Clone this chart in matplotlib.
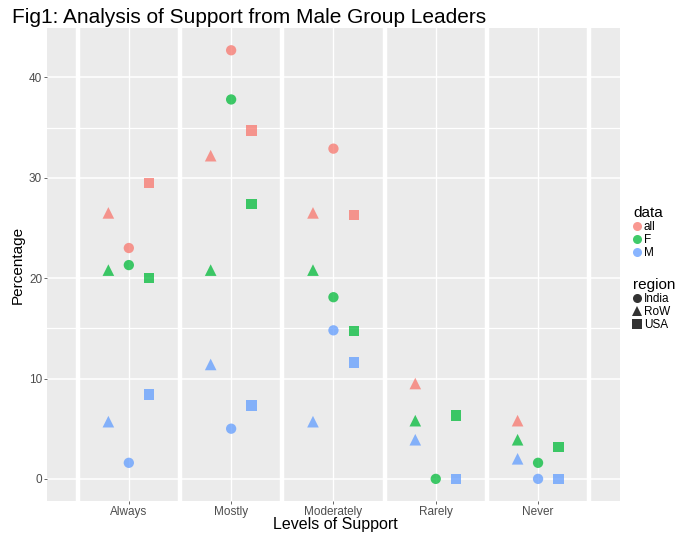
import numpy as np
import matplotlib
matplotlib.use("Agg")
import matplotlib.pyplot as plt
from matplotlib.lines import Line2D

plt.rcParams['font.family'] = ['Liberation Sans', 'DejaVu Sans']

levels = ["Always", "Mostly", "Moderately", "Rarely", "Never"]
groups = ["all", "F", "M"]
regions = ["India", "RoW", "USA"]

# percentage per level, one list per data group and region (nan = not shown)
all_india = [23.0, 42.7, 32.9, np.nan, np.nan]
all_row = [26.5, 32.2, 26.5, 9.5, 5.8]
all_usa = [29.5, 34.7, 26.3, np.nan, np.nan]
f_india = [21.3, 37.8, 18.1, 0.0, 1.6]
f_row = [20.8, 20.8, 20.8, 5.8, 3.9]
f_usa = [20.0, 27.4, 14.7, 6.3, 3.2]
m_india = [1.6, 5.0, 14.8, np.nan, 0.0]
m_row = [5.7, 11.4, 5.7, 3.9, 2.0]
m_usa = [8.4, 7.3, 11.6, 0.0, 0.0]

values = {
    ("all", "India"): all_india, ("all", "RoW"): all_row, ("all", "USA"): all_usa,
    ("F", "India"): f_india, ("F", "RoW"): f_row, ("F", "USA"): f_usa,
    ("M", "India"): m_india, ("M", "RoW"): m_row, ("M", "USA"): m_usa,
}

colors = {"all": "#F8766D", "F": "#00BA38", "M": "#619CFF"}
markers = {"India": "o", "RoW": "^", "USA": "s"}
offsets = {"India": 0.0, "RoW": -0.2, "USA": 0.2}
sizes = {"India": 55, "RoW": 70, "USA": 55}

fig = plt.figure(figsize=(6.78, 5.33), dpi=100)
ax = fig.add_axes([0.0693, 0.0601, 0.845, 0.887])
ax.set_facecolor("#EBEBEB")

x = np.arange(1, len(levels) + 1)
ax.set_xlim(0.2, 5.8)
ax.set_ylim(-2.2, 44.9)

# grid
for yv in [0, 10, 20, 30, 40]:
    ax.axhline(yv, color="white", lw=1.1, zorder=1)
for yv in [15, 35]:
    ax.axhline(yv, color="white", lw=0.9, zorder=1)
for xv in x:
    ax.axvline(xv, color="white", lw=1.0, zorder=1)
for xv in np.arange(0.5, 6, 1.0):
    ax.axvline(xv, color="white", lw=3.2, zorder=1)

for g in groups:
    for r in regions:
        ax.scatter(x + offsets[r], values[(g, r)], color=colors[g], marker=markers[r],
                   s=sizes[r], alpha=0.75, edgecolors="none", zorder=3)

for s in ax.spines.values():
    s.set_visible(False)
ax.set_xticks(x)
ax.set_xticklabels(levels)
ax.set_yticks([0, 10, 20, 30, 40])
ax.tick_params(colors="#4D4D4D", labelsize=8.5, length=2.5, width=0.6, pad=1)
ax.set_ylabel("Percentage", fontsize=11, labelpad=3)
fig.text(0.494, 0.016, "Levels of Support", fontsize=11.5, ha="center", va="center")

fig.text(0.017, 0.968, "Fig1: Analysis of Support from Male Group Leaders",
         fontsize=15, va="center", ha="left")

# legends
h1 = [Line2D([], [], marker="o", ls="", color=colors[g], alpha=0.75, markersize=6.5,
             markeredgewidth=0) for g in groups]
fig.legend(h1, groups, title="data", loc="upper left", bbox_to_anchor=(0.925, 0.625),
           frameon=False, fontsize=8.5, title_fontsize=11, handlelength=0.6,
           handletextpad=0.3, labelspacing=0.1, borderpad=0, alignment="left")
h2 = [Line2D([], [], marker=markers[r], ls="", color="#333333", markersize=6.5,
             markeredgewidth=0) for r in regions]
fig.legend(h2, regions, title="region", loc="upper left", bbox_to_anchor=(0.925, 0.49),
           frameon=False, fontsize=8.5, title_fontsize=11, handlelength=0.6,
           handletextpad=0.3, labelspacing=0.1, borderpad=0, alignment="left")

fig.savefig("out.png", dpi=100)
